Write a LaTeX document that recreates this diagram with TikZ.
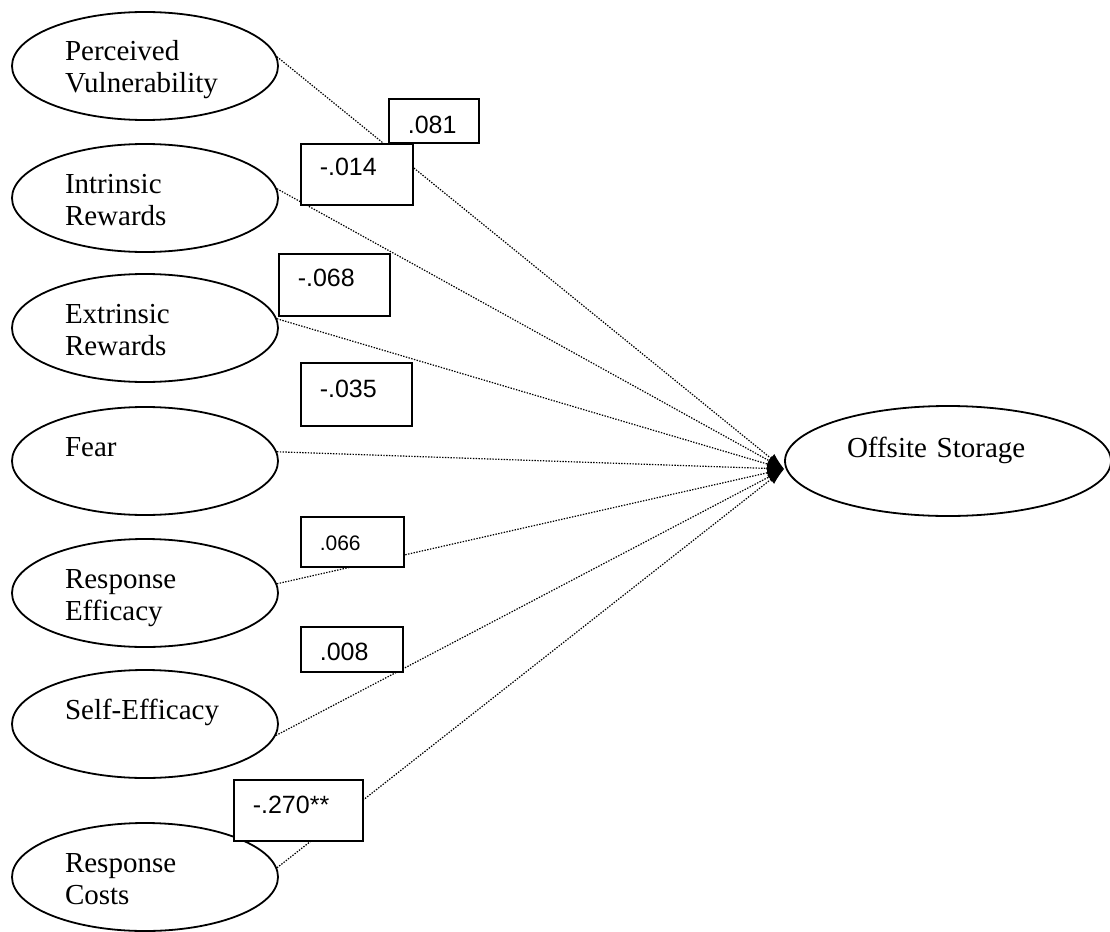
\documentclass[tikz,border=0pt]{standalone}
\usepackage{fontspec}
\setmainfont{Liberation Serif}
\newfontfamily\valfont{Liberation Sans}
\usepackage{tikz}
\usetikzlibrary{shapes.geometric,arrows.meta}

\tikzset{
  latent/.style={ellipse,draw,black,line width=1.8pt,minimum width=266pt,minimum height=108pt,
    inner sep=0pt,align=left,text width=160pt,text height=20pt,text depth=30pt,
    font=\fontsize{29pt}{32pt}\selectfont},
  valbox/.style={draw,black,fill=white,line width=1.6pt,anchor=north west,inner xsep=19pt,inner ysep=0pt,
    align=left,text height=34pt,text depth=28pt,font=\valfont\fontsize{25pt}{30pt}\selectfont},
  path/.style={black,dash pattern=on 1.4pt off 1.4pt,line width=1.2pt,-{Latex[length=17pt,width=11pt]}}
}

\begin{document}
\begin{tikzpicture}[x=1pt,y=-1pt]
\useasboundingbox (0,0) rectangle (1110,931);
\node[latent] (pv) at (145,66) {Perceived\\Vulnerability};
\node[latent] (ir) at (145,198) {Intrinsic\\Rewards};
\node[latent] (er) at (145,328) {Extrinsic\\Rewards};
\node[latent] (fe) at (145,461) {Fear};
\node[latent] (re) at (145,593) {Response\\Efficacy};
\node[latent] (se) at (145,724) {\mbox{Self-Efficacy}};
\node[latent] (rc) at (145,877) {Response\\Costs};
\node[latent,minimum width=326pt,minimum height=110pt,text width=202pt,text depth=28pt] (os) at (948,461) {Offsite Storage};
\coordinate (hub) at ([yshift=-8pt]os.west);

\draw[path] (pv.4) -- (hub);
\draw[path] (ir.4) -- (hub);
\draw[path] (er.4) -- (hub);
\draw[path] (fe.4) -- (hub);
\draw[path] (re.4) -- (hub);
\draw[path] (se.-5) -- (hub);
\draw[path] (rc.4) -- (hub);

\node[valbox,text width=52pt,text height=35pt,text depth=9pt] (b-pv) at (388,98) {.081};
\node[valbox,text width=74pt,text height=32pt,text depth=29pt] (b-ir) at (300,143) {-.014};
\node[valbox,text width=73pt,text height=33pt,text depth=29pt] (b-er) at (278,253) {-.068};
\node[valbox,text width=73pt,text height=35pt] (b-fe) at (300,362) {-.035};
\node[valbox,text width=65pt,text depth=16pt,font=\valfont\fontsize{21pt}{25pt}\selectfont] (b-re) at (300,516) {.066};
\node[valbox,text width=64pt,text depth=11pt] (b-se) at (300,626) {.008};
\node[valbox,text width=91pt,text depth=27pt] (b-rc) at (233,779) {-.270**};
\end{tikzpicture}
\end{document}
